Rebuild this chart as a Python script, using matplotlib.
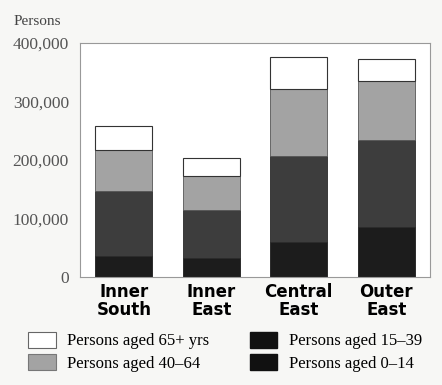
import numpy as np
import matplotlib.pyplot as plt
from matplotlib.patches import Patch

regions = ["Inner\nSouth", "Inner\nEast", "Central\nEast", "Outer\nEast"]
aged_0_14 = [36000, 32000, 60000, 86000]
aged_15_39 = [111000, 83000, 147000, 148000]
aged_40_64 = [70000, 58000, 114000, 101000]
aged_65_plus = [41000, 30000, 55000, 37000]
yticks = [0, 100000, 200000, 300000, 400000]

fig = plt.figure(figsize=(4.42, 3.85), dpi=100, facecolor="#f7f7f5")
ax = fig.add_axes([0.181, 0.2805, 0.792, 0.6075])
ax.set_facecolor("white")

x = np.arange(len(regions))
w = 0.65
b1 = np.array(aged_0_14)
b2 = b1 + np.array(aged_15_39)
b3 = b2 + np.array(aged_40_64)
ax.bar(x, aged_0_14, w, color="#1c1c1c", edgecolor="#1c1c1c", lw=0.6)
ax.bar(x, aged_15_39, w, bottom=b1, color="#3d3d3d", edgecolor="#2a2a2a", lw=0.6)
ax.bar(x, aged_40_64, w, bottom=b2, color="#a3a3a3", edgecolor="#555555", lw=0.6)
ax.bar(x, aged_65_plus, w, bottom=b3, color="white", edgecolor="#333333", lw=0.8)

ax.set_xlim(-0.5, 3.5)
ax.set_ylim(0, 400000)
ax.set_yticks(yticks)
ax.set_yticklabels([f"{v:,}" for v in yticks], family="Liberation Serif",
                   fontsize=12.5, color="#555555")
ax.set_xticks(x)
ax.set_xticklabels(regions, family="DejaVu Sans", fontweight="bold",
                   fontsize=12, color="black", linespacing=1.0)
ax.tick_params(axis="y", length=0, pad=8)
ax.tick_params(axis="x", length=0, pad=4)
for s in ax.spines.values():
    s.set_color("#999999")
    s.set_linewidth(0.8)

fig.text(0.03, 0.935, "Persons", family="Liberation Serif", fontsize=11,
         color="#444444")

handles = [
    Patch(facecolor="white", edgecolor="#666666", lw=0.8),
    Patch(facecolor="#a3a3a3", edgecolor="#777777", lw=0.8),
    Patch(facecolor="#111111", edgecolor="#111111"),
    Patch(facecolor="#111111", edgecolor="#111111"),
]
labels = ["Persons aged 65+ yrs", "Persons aged 40–64",
          "Persons aged 15–39", "Persons aged 0–14"]
fig.legend(handles, labels, loc="lower left", bbox_to_anchor=(0.03, -0.005),
           ncol=2, frameon=False, handlelength=1.65, handleheight=1.1,
           columnspacing=2.4, labelspacing=0.3, handletextpad=0.7,
           prop={"family": "Liberation Serif", "size": 12})

fig.savefig("out.png", dpi=100, facecolor=fig.get_facecolor())
